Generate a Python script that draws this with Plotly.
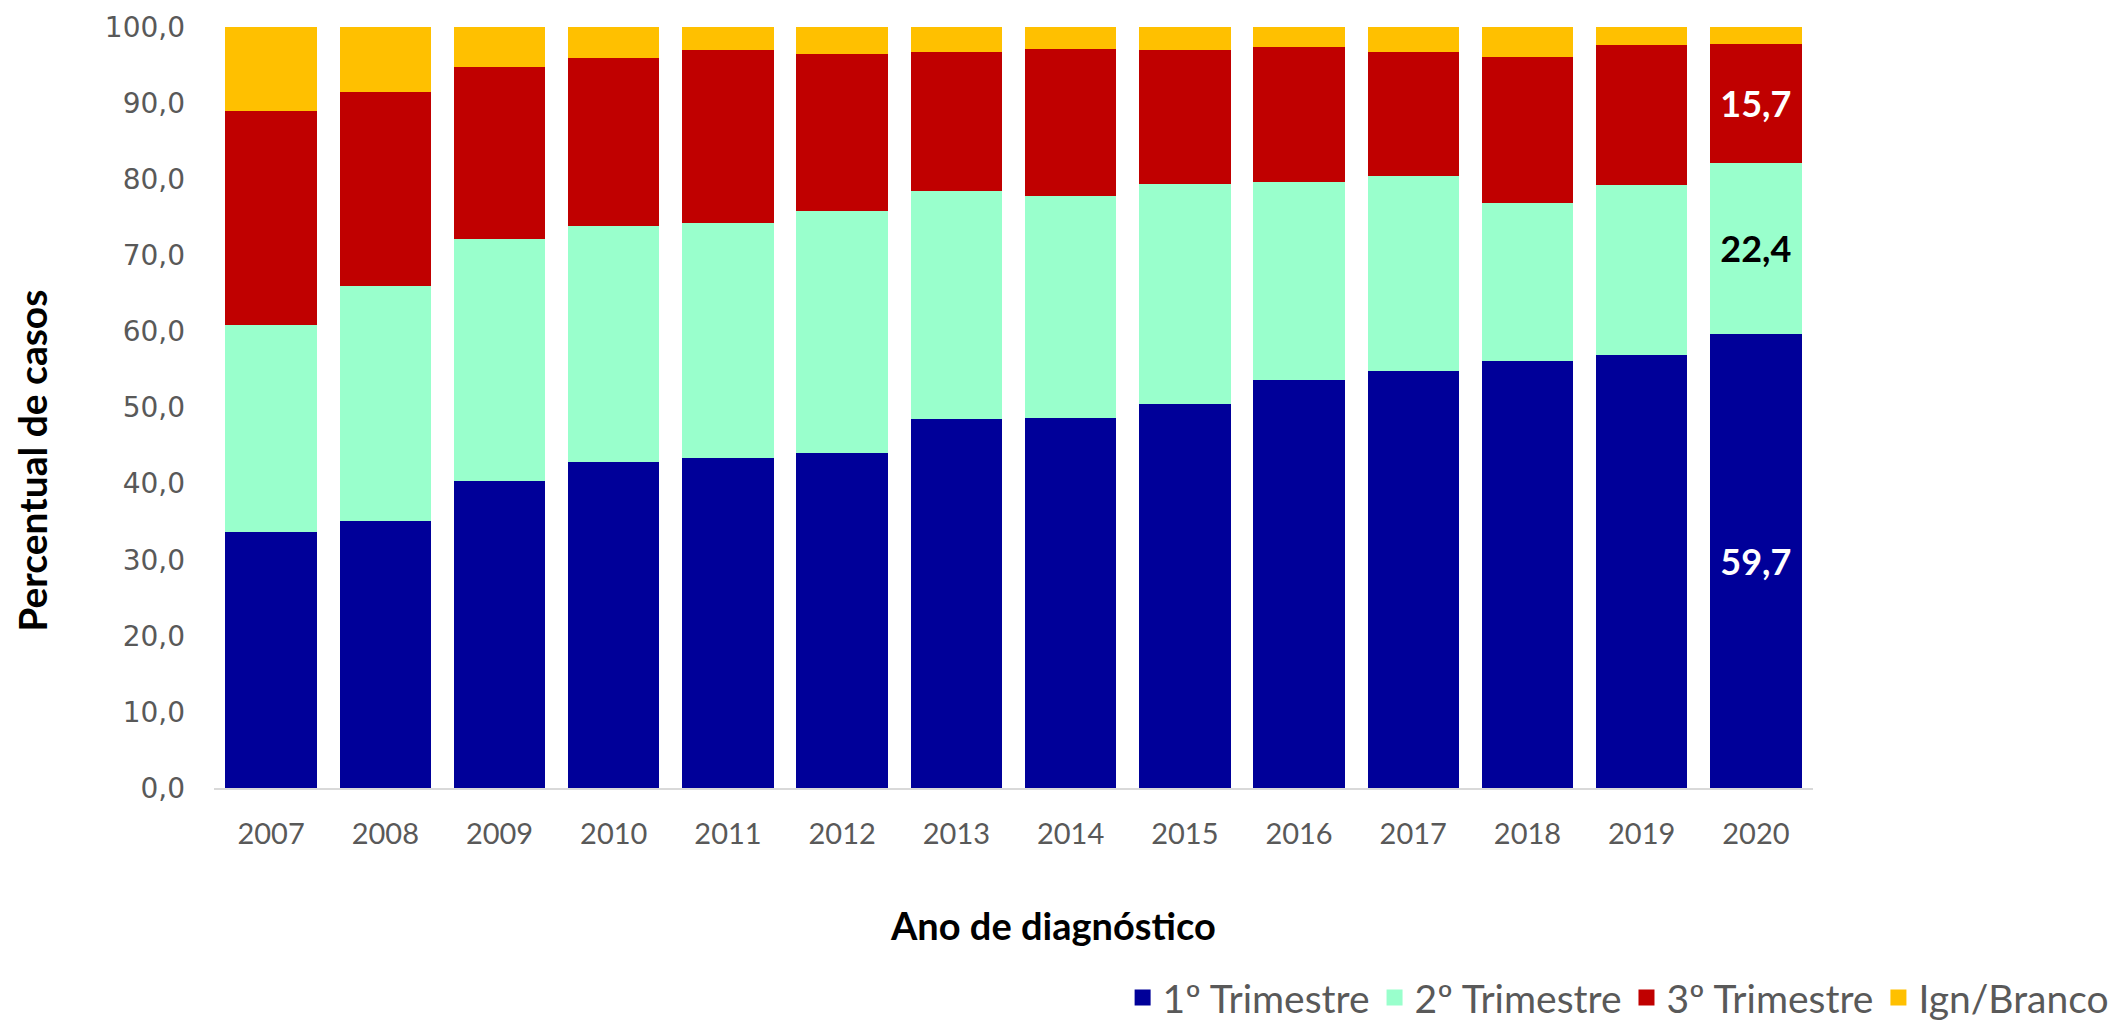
import plotly.graph_objects as go

anos = ["2007", "2008", "2009", "2010", "2011", "2012", "2013",
        "2014", "2015", "2016", "2017", "2018", "2019", "2020"]
tri1 = [33.7, 35.1, 40.3, 42.8, 43.3, 44.0, 48.5, 48.6, 50.5, 53.6, 54.8, 56.1, 56.9, 59.7]
tri2 = [27.1, 30.9, 31.9, 31.0, 30.9, 31.8, 30.0, 29.2, 28.9, 26.0, 25.6, 20.8, 22.3, 22.4]
tri3 = [28.2, 25.5, 22.6, 22.1, 22.8, 20.7, 18.2, 19.3, 17.6, 17.8, 16.3, 19.2, 18.4, 15.7]
ign = [11.0, 8.5, 5.2, 4.1, 3.0, 3.5, 3.3, 2.9, 3.0, 2.6, 3.3, 3.9, 2.4, 2.2]
series_names = ["1º Trimestre", "2º Trimestre", "3º Trimestre", "Ign/Branco"]
y_ticks = [0, 10, 20, 30, 40, 50, 60, 70, 80, 90, 100]

colors = ["#000099", "#99FFCC", "#C00000", "#FFC000"]
label_colors = ["white", "black", "white", "white"]
labelled = [True, True, True, False]

def fmt(v):
    return f"{v:.1f}".replace(".", ",")

fig = go.Figure()
for name, vals, col, lcol, lab in zip(series_names, [tri1, tri2, tri3, ign], colors, label_colors, labelled):
    text = [fmt(v) if (lab and i == len(vals) - 1) else "" for i, v in enumerate(vals)]
    fig.add_trace(go.Bar(
        x=anos, y=vals, name=name, marker_color=col,
        marker_line=dict(width=0),
        text=text, textposition="inside", insidetextanchor="middle",
        textfont=dict(family="Lato", size=36, color=lcol, weight="bold"),
        showlegend=False, hoverinfo="skip",
    ))
# legend entries
for name, col in zip(series_names, colors):
    fig.add_trace(go.Scatter(
        x=[None], y=[None], mode="markers", name=name,
        marker=dict(symbol="square", size=18, color=col),
    ))

fig.update_layout(
    width=2113, height=1022,
    barmode="stack", bargap=0.2,
    plot_bgcolor="white", paper_bgcolor="white",
    margin=dict(l=206, r=308, t=19, b=242, autoexpand=False),
    uniformtext=dict(minsize=10, mode="show"),
    legend=dict(orientation="h",
                x=1.188, xanchor="right", y=-0.3175, yanchor="bottom",
                traceorder="normal", borderwidth=0,
                font=dict(family="Lato", size=39, color="#595959"),
                itemwidth=30, tracegroupgap=0),
    xaxis=dict(showline=True, linecolor="#D9D9D9", linewidth=2, ticks="",
               tickfont=dict(family="Lato", size=29, color="#595959"),
               showgrid=False, ticklabelstandoff=19),
    yaxis=dict(range=[0, 100], tickvals=y_ticks, ticktext=[fmt(v) for v in y_ticks],
               showgrid=False, showline=False, zeroline=False, ticks="",
               tickfont=dict(family="DejaVu Sans", size=28, color="#595959"),
               ticklabelstandoff=28),
    annotations=[
        dict(text="<b>Percentual de casos</b>", xref="paper", yref="paper",
             x=-0.1138, y=0.43, textangle=-90, showarrow=False,
             font=dict(family="Lato", size=39, color="black"),
             xanchor="center", yanchor="middle"),
        dict(text="<b>Ano de diagnóstico</b>", xref="paper", yref="paper",
             x=0.525, y=-0.18, showarrow=False,
             font=dict(family="Lato", size=38, color="black"),
             xanchor="center", yanchor="middle"),
    ],
)

fig.write_html("out.html")
